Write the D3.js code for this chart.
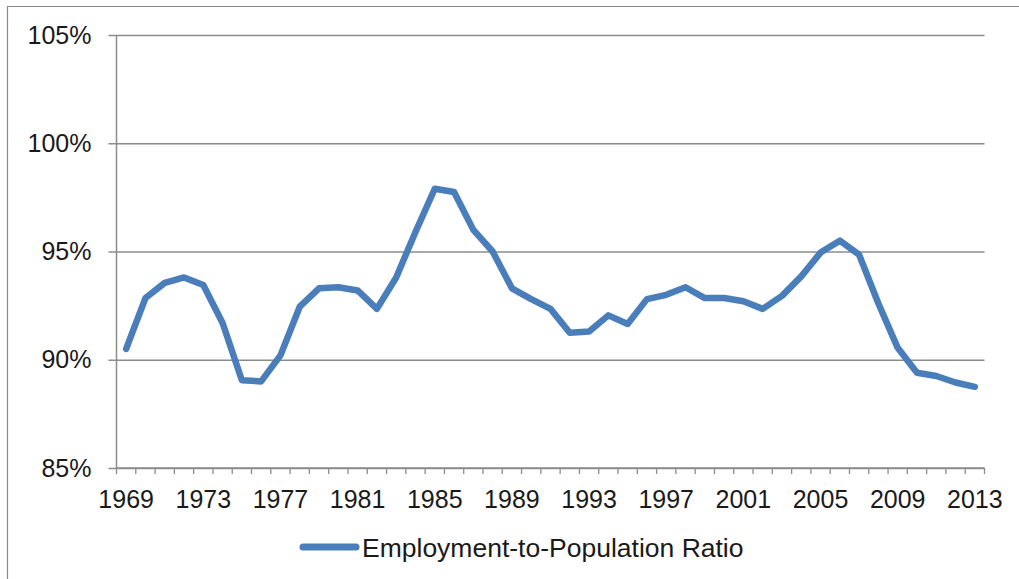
<!DOCTYPE html>
<html>
<head>
<meta charset="utf-8">
<script src="https://cdn.jsdelivr.net/npm/d3@7"></script>
<style>
  html, body { margin: 0; padding: 0; background: #ffffff; }
  svg { display: block; }
  text { font-family: "Liberation Sans", Arial, sans-serif; fill: #1a1a1a; }
</style>
</head>
<body>
<svg id="chart" width="1019" height="579"></svg>
<script>
// Annual employment-to-population ratio, 1969–2013 (percent)
const years = d3.range(1969, 2014);
const ratio = [
  90.5, 92.85, 93.55, 93.8, 93.45, 91.7, 89.05, 89.0, 90.2, 92.45,
  93.3, 93.35, 93.2, 92.35, 93.8, 95.9, 97.9, 97.75, 96.0, 95.0,
  93.3, 92.8, 92.35, 91.25, 91.3, 92.05, 91.65, 92.8, 93.0, 93.35,
  92.85, 92.85, 92.7, 92.35, 92.95, 93.85, 94.95, 95.5, 94.85, 92.6,
  90.55, 89.4, 89.25, 88.95, 88.75
];
const xTickYears = [1969, 1973, 1977, 1981, 1985, 1989, 1993, 1997, 2001, 2005, 2009, 2013];
const yTicks = [85, 90, 95, 100, 105];
const seriesName = "Employment-to-Population Ratio";

const svg = d3.select("#chart");
const W = 1019, H = 579;
const plot = { left: 116.5, right: 984.5, top: 35, bottom: 468 };
const gridColor = "#8c8c8c";
const lineColor = "#4a7ebb";

// outer frame (top and left edges)
svg.append("path")
  .attr("d", `M7.5,${H} V6.5 H${W}`)
  .attr("fill", "none")
  .attr("stroke", "#8a8a8a")
  .attr("stroke-width", 1.2);

const x = d3.scaleBand().domain(years).range([plot.left, plot.right]).padding(0);
const y = d3.scaleLinear().domain([85, 105]).range([plot.bottom, plot.top]);

// horizontal gridlines with short ticks to the left of the axis
const yAxis = d3.axisLeft(y)
  .tickValues(yTicks)
  .tickSize(-(plot.right - plot.left))
  .tickSizeOuter(0)
  .tickPadding(25)
  .tickFormat(d => d + "%");
const gy = svg.append("g").attr("transform", `translate(${plot.left},0)`).call(yAxis);
gy.select(".domain").remove();
gy.selectAll(".tick line")
  .attr("x1", -8)
  .attr("stroke", gridColor)
  .attr("stroke-width", 1.5);
gy.selectAll(".tick text")
  .attr("font-size", 25)
  .attr("fill", "#1a1a1a");

// vertical axis line
svg.append("line")
  .attr("x1", plot.left).attr("x2", plot.left)
  .attr("y1", plot.top).attr("y2", plot.bottom)
  .attr("stroke", gridColor).attr("stroke-width", 1.5);

// category axis: ticks on category boundaries, labels on every fourth year
const gx = svg.append("g").attr("transform", `translate(0,${plot.bottom})`);
gx.append("line")
  .attr("x1", plot.left).attr("x2", plot.right)
  .attr("stroke", gridColor).attr("stroke-width", 1.5);
const boundaries = years.map(d => x(d)).concat([x(years[years.length - 1]) + x.bandwidth()]);
gx.selectAll("line.tick")
  .data(boundaries)
  .join("line")
  .attr("class", "tick")
  .attr("x1", d => d).attr("x2", d => d)
  .attr("y1", 0).attr("y2", 6)
  .attr("stroke", gridColor).attr("stroke-width", 1.3);
gx.selectAll("text")
  .data(xTickYears)
  .join("text")
  .attr("x", d => x(d) + x.bandwidth() / 2)
  .attr("y", 40)
  .attr("text-anchor", "middle")
  .attr("font-size", 25)
  .text(d => d);

// data line
const line = d3.line()
  .x((d, i) => x(years[i]) + x.bandwidth() / 2)
  .y(d => y(d));
svg.append("path")
  .datum(ratio)
  .attr("d", line)
  .attr("fill", "none")
  .attr("stroke", lineColor)
  .attr("stroke-width", 6.5)
  .attr("stroke-linejoin", "round")
  .attr("stroke-linecap", "round");

// legend
const lg = svg.append("g").attr("transform", "translate(300,547)");
lg.append("line")
  .attr("x1", 3).attr("x2", 56)
  .attr("stroke", lineColor)
  .attr("stroke-width", 7)
  .attr("stroke-linecap", "round");
lg.append("text")
  .attr("x", 62)
  .attr("y", 9.5)
  .attr("font-size", 26.5)
  .text(seriesName);
</script>
</body>
</html>
